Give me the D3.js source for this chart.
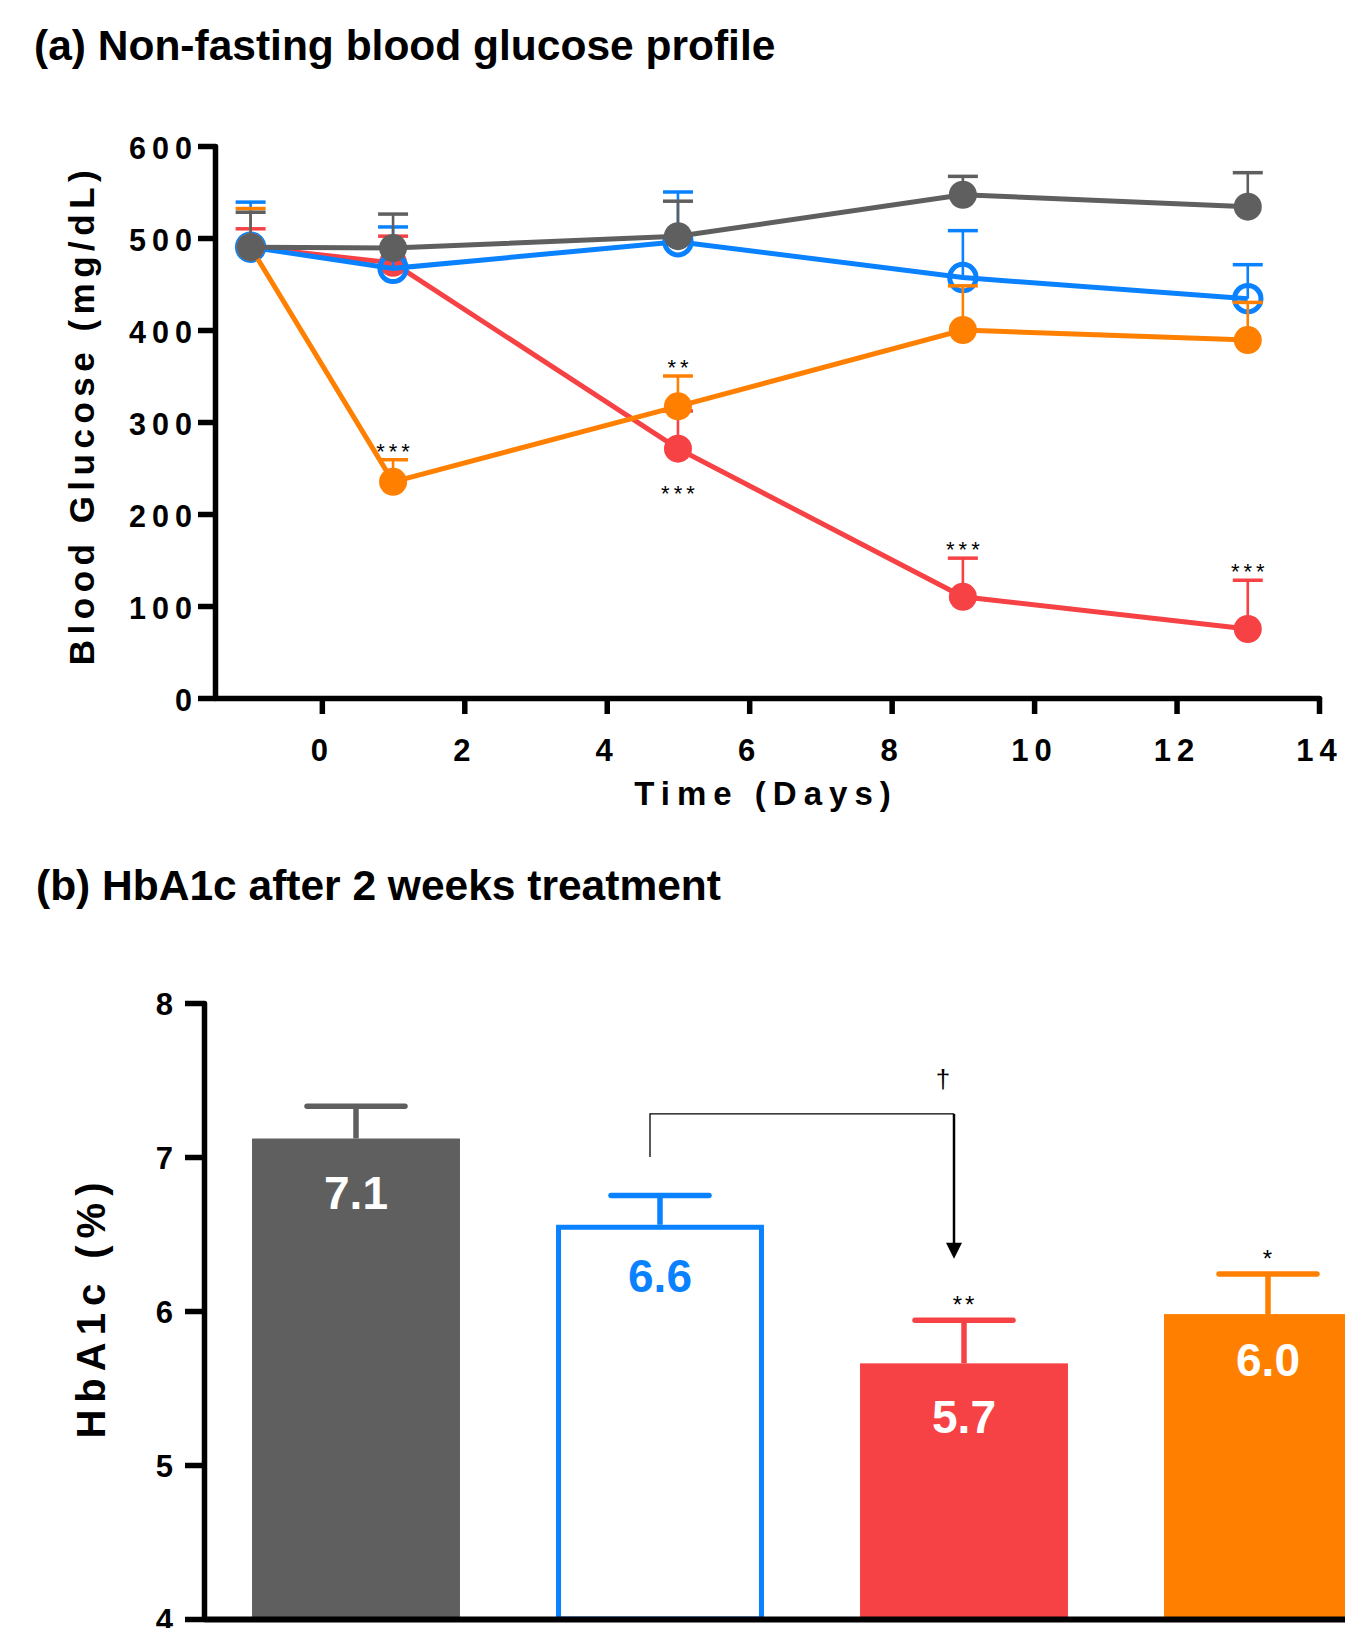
<!DOCTYPE html>
<html><head><meta charset="utf-8">
<script src="https://cdn.jsdelivr.net/npm/d3@7"></script>
<style>
body{margin:0;background:#fff;}
svg{display:block;font-family:"Liberation Sans",Arial,sans-serif;}
</style></head><body>
<svg id="chart" width="1345" height="1628"></svg>
<script>
// ---------- DATA ----------
const titleA = "(a) Non-fasting blood glucose profile";
const titleB = "(b) HbA1c after 2 weeks treatment";

const days = [-1, 1, 5, 9, 13];
const xTicksA = [0, 2, 4, 6, 8, 10, 12, 14];
const yTicksA = [0, 100, 200, 300, 400, 500, 600];

const grayMean   = [490, 489, 502, 547, 534];
const grayErr    = [38, 37, 38, 20, 37];
const blueMean   = [490, 467, 496, 457, 434];
const blueErr    = [49, 45, 54, 51, 37];
const redMean    = [490, 473, 271, 110, 75];
const redErr     = [20, 29, 41, 42, 53];
const orangeMean = [490, 235, 317, 400, 389];
const orangeErr  = [42, 24, 33, 48, 41];

const sigA = [
  {series: "orange", day: 1,  text: "***", pos: "above"},
  {series: "orange", day: 5,  text: "**",  pos: "above"},
  {series: "red",    day: 5,  text: "***", pos: "below"},
  {series: "red",    day: 9,  text: "***", pos: "above"},
  {series: "red",    day: 13, text: "***", pos: "above"}
];

const barGroups   = ["Group 1", "Group 2", "Group 3", "Group 4"];
const hba1cMean   = [7.12, 6.56, 5.66, 5.98];
const hba1cErr    = [0.21, 0.19, 0.28, 0.26];
const hba1cLabels = ["7.1", "6.6", "5.7", "6.0"];
const yTicksB     = [4, 5, 6, 7, 8];
const sigB        = ["", "", "**", "*"];
const bracket     = {from: "Group 2", to: "Group 3", top: 7.28, leftBottom: 7.0, tip: 6.34, text: "\u2020"};

// ---------- STYLE ----------
const colors = {gray: "#5f5f5f", blue: "#0a82ff", red: "#f74245", orange: "#ff8000"};
const barColors = [colors.gray, colors.blue, colors.red, colors.orange];
const labelDy = [70, 67, 70, 62];

const svg = d3.select("#chart");
svg.append("rect").attr("width", 1345).attr("height", 1628).attr("fill", "#fff");

svg.append("text").attr("x", 34).attr("y", 60)
  .attr("font-size", 42.5).attr("font-weight", "bold").attr("fill", "#000").text(titleA);
svg.append("text").attr("x", 36).attr("y", 900)
  .attr("font-size", 42.5).attr("font-weight", "bold").attr("fill", "#000").text(titleB);

// ---------- PANEL A ----------
const xA = d3.scaleLinear().domain([-1.5, 14]).range([215, 1319]);
const yA = d3.scaleLinear().domain([0, 600]).range([698, 146]);
const gA = svg.append("g");

function styleAxis(g, fs, ls, sw) {
  g.attr("font-family", null).attr("font-size", null);
  g.select(".domain").attr("stroke", "#000").attr("stroke-width", sw).attr("stroke-linecap", "round");
  g.selectAll(".tick line").attr("stroke", "#000").attr("stroke-width", sw);
  g.selectAll(".tick text").attr("font-size", fs).attr("font-weight", "bold")
    .attr("fill", "#000").style("letter-spacing", ls + "px");
}

const yAxA = gA.append("g").attr("transform", "translate(215,0)")
  .call(d3.axisLeft(yA).tickValues(yTicksA).tickSize(17).tickSizeOuter(0).tickPadding(0).tickFormat(d3.format("d")));
styleAxis(yAxA, 30.5, 6, 5.5);
yAxA.selectAll(".tick text").attr("dy", "0.42em");

const xAxA = gA.append("g").attr("transform", "translate(0,698)")
  .call(d3.axisBottom(xA).tickValues(xTicksA).tickSize(16).tickSizeOuter(0).tickPadding(25).tickFormat(d3.format("d")));
styleAxis(xAxA, 31, 6, 5.5);

gA.append("text").attr("transform", "translate(94,415) rotate(-90)")
  .attr("text-anchor", "middle").attr("font-size", 35).attr("font-weight", "bold")
  .style("letter-spacing", "5.5px").text("Blood Glucose (mg/dL)");
gA.append("text").attr("x", 766).attr("y", 805)
  .attr("text-anchor", "middle").attr("font-size", 33).attr("font-weight", "bold")
  .style("letter-spacing", "7px").text("Time (Days)");

const series = [
  {name: "red",    mean: redMean,    err: redErr,    open: false},
  {name: "blue",   mean: blueMean,   err: blueErr,   open: true},
  {name: "orange", mean: orangeMean, err: orangeErr, open: false},
  {name: "gray",   mean: grayMean,   err: grayErr,   open: false}
];
const seriesByName = {};
series.forEach(s => seriesByName[s.name] = s);

const line = d3.line().x(d => xA(d.day)).y(d => yA(d.v));

series.forEach(s => {
  const c = colors[s.name];
  const pts = days.map((d, i) => ({day: d, v: s.mean[i], e: s.err[i]}));
  const g = gA.append("g");
  g.selectAll(".stem").data(pts).join("line")
    .attr("x1", d => xA(d.day)).attr("x2", d => xA(d.day))
    .attr("y1", d => yA(d.v)).attr("y2", d => yA(d.v + d.e))
    .attr("stroke", c).attr("stroke-width", 2.6);
  g.selectAll(".cap").data(pts).join("line")
    .attr("x1", d => xA(d.day) - 15).attr("x2", d => xA(d.day) + 15)
    .attr("y1", d => yA(d.v + d.e)).attr("y2", d => yA(d.v + d.e))
    .attr("stroke", c).attr("stroke-width", 3.5);
  g.append("path").datum(pts).attr("d", line)
    .attr("fill", "none").attr("stroke", c).attr("stroke-width", 5);
  g.selectAll(".mk").data(pts).join("circle")
    .attr("cx", d => xA(d.day)).attr("cy", d => yA(d.v))
    .attr("r", s.open ? 13.2 : 14)
    .attr("fill", s.open ? "none" : c)
    .attr("stroke", s.open ? c : "none").attr("stroke-width", s.open ? 5 : 0);
});

gA.selectAll(".sigA").data(sigA).join("text")
  .attr("text-anchor", "middle").attr("font-size", 22).style("letter-spacing", "4px")
  .attr("x", d => xA(d.day) + 2)
  .attr("y", d => {
    const s = seriesByName[d.series];
    const i = days.indexOf(d.day);
    return d.pos === "above" ? yA(s.mean[i] + s.err[i]) - 1 : yA(s.mean[i]) + 52;
  })
  .text(d => d.text);

// ---------- PANEL B ----------
const yB = d3.scaleLinear().domain([4, 8]).range([1619, 1003]);
const xB = d3.scaleBand().domain(barGroups).range([204, 1420]).paddingInner(0.316).paddingOuter(0.158);
const bw = xB.bandwidth();
const gB = svg.append("g");

const barData = barGroups.map((g, i) => ({g, v: hba1cMean[i], e: hba1cErr[i], lab: hba1cLabels[i], c: barColors[i], open: i === 1, sig: sigB[i], dy: labelDy[i]}));

gB.selectAll(".bar").data(barData).join("rect")
  .attr("x", d => xB(d.g) + (d.open ? 2.5 : 0))
  .attr("y", d => yB(d.v) + (d.open ? 2.5 : 0))
  .attr("width", d => bw - (d.open ? 5 : 0))
  .attr("height", d => yB(4) - yB(d.v) - (d.open ? 2.5 : 0))
  .attr("fill", d => d.open ? "#fff" : d.c)
  .attr("stroke", d => d.open ? d.c : "none")
  .attr("stroke-width", d => d.open ? 5 : 0);

gB.selectAll(".estem").data(barData).join("line")
  .attr("x1", d => xB(d.g) + bw / 2).attr("x2", d => xB(d.g) + bw / 2)
  .attr("y1", d => yB(d.v)).attr("y2", d => yB(d.v + d.e))
  .attr("stroke", d => d.c).attr("stroke-width", 5.5);
gB.selectAll(".ecap").data(barData).join("line")
  .attr("x1", d => xB(d.g) + bw / 2 - 49).attr("x2", d => xB(d.g) + bw / 2 + 49)
  .attr("y1", d => yB(d.v + d.e)).attr("y2", d => yB(d.v + d.e))
  .attr("stroke", d => d.c).attr("stroke-width", 5.5).attr("stroke-linecap", "round");

gB.selectAll(".vlab").data(barData).join("text")
  .attr("x", d => xB(d.g) + bw / 2).attr("y", d => yB(d.v) + d.dy)
  .attr("text-anchor", "middle").attr("font-size", 46).attr("font-weight", "bold")
  .attr("fill", d => d.open ? d.c : "#fff").text(d => d.lab);

gB.selectAll(".sigB").data(barData.filter(d => d.sig)).join("text")
  .attr("x", d => xB(d.g) + bw / 2 + 1).attr("y", d => yB(d.v + d.e) - 7)
  .attr("text-anchor", "middle").attr("font-size", 24).style("letter-spacing", "3px")
  .text(d => d.sig);

const bx1 = xB(bracket.from) + bw / 2 - 10;
const bx2 = xB(bracket.to) + bw / 2 - 10;
gB.append("path")
  .attr("d", `M${bx1},${yB(bracket.leftBottom)}V${yB(bracket.top)}H${bx2}`)
  .attr("fill", "none").attr("stroke", "#000").attr("stroke-width", 1.3);
gB.append("line").attr("x1", bx2).attr("x2", bx2)
  .attr("y1", yB(bracket.top)).attr("y2", yB(bracket.tip) - 14)
  .attr("stroke", "#000").attr("stroke-width", 2.5);
gB.append("path")
  .attr("d", `M${bx2 - 8},${yB(bracket.tip) - 16}L${bx2 + 8},${yB(bracket.tip) - 16}L${bx2},${yB(bracket.tip)}Z`)
  .attr("fill", "#000");
gB.append("text").attr("x", bx2 - 11).attr("y", yB(bracket.top) - 26)
  .attr("text-anchor", "middle").attr("font-size", 26).text(bracket.text);

const yAxB = gB.append("g").attr("transform", "translate(204,0)")
  .call(d3.axisLeft(yB).tickValues(yTicksB).tickSize(19).tickSizeOuter(0).tickPadding(12).tickFormat(d3.format("d")));
styleAxis(yAxB, 31, 0, 5.5);
yAxB.selectAll(".tick text").attr("dy", "0.38em");

const xAxB = gB.append("g").attr("transform", "translate(0,1619)")
  .call(d3.axisBottom(xB).tickSize(0).tickSizeOuter(0).tickFormat(""));
xAxB.select(".domain").attr("stroke", "#000").attr("stroke-width", 6);

gB.append("text").attr("transform", "translate(105,1307) rotate(-90)")
  .attr("text-anchor", "middle").attr("font-size", 40).attr("font-weight", "bold")
  .style("letter-spacing", "7px").text("HbA1c (%)");
</script>
</body></html>
